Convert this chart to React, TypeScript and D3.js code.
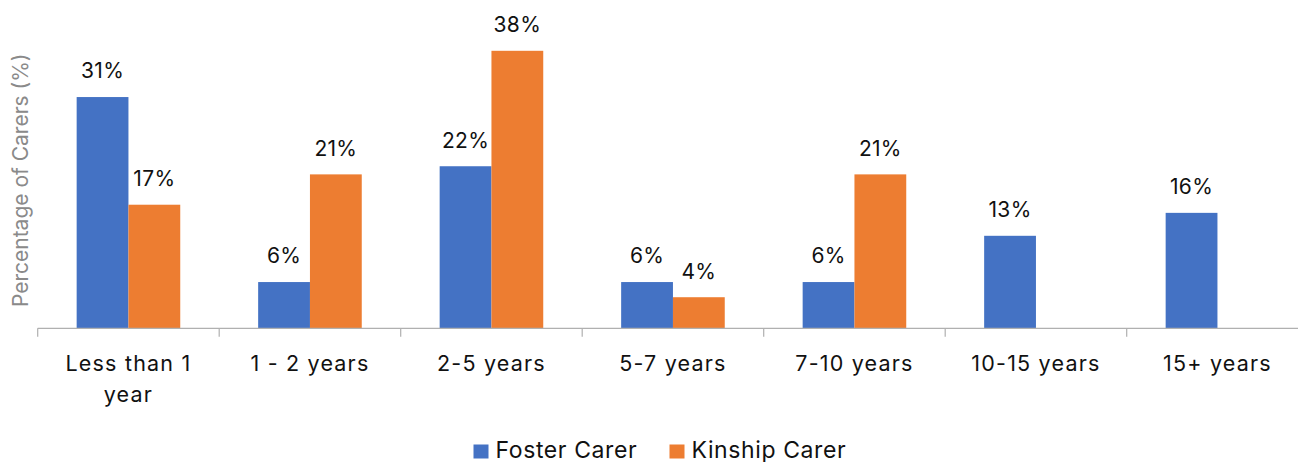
import React from "react";
import * as d3 from "d3";

const categories = ["Less than 1 year", "1 - 2 years", "2-5 years", "5-7 years", "7-10 years", "10-15 years", "15+ years"];
const tickLabels = [["Less than 1", "year"], ["1 - 2 years"], ["2-5 years"], ["5-7 years"], ["7-10 years"], ["10-15 years"], ["15+ years"]];
const seriesNames = ["Foster Carer", "Kinship Carer"];
const fosterValues = [31.25, 6.25, 21.9, 6.25, 6.25, 12.5, 15.6];
const kinshipValues: (number | null)[] = [16.7, 20.8, 37.5, 4.2, 20.8, null, null];
const seriesColors = ["#4472C4", "#ED7D31"];

const W = 1298;
const H = 462;
const FONT = "Inter, 'Open Sans', sans-serif";

export default function App() {
  const left = 37.7;
  const step = 181.5;
  const baseY = 328.3;
  const topY = baseY - 40 * 7.4;

  const x = d3.scaleBand<string>().domain(categories).range([left, left + step * categories.length]).padding(0);
  const xs = d3.scaleBand<string>().domain(seriesNames).range([0, x.bandwidth()]).paddingInner(0).paddingOuter(0.752);
  const y = d3.scaleLinear().domain([0, 40]).range([baseY, topY]);

  const series = [fosterValues, kinshipValues];
  const ticks = d3.range(categories.length + 1).map((i) => left + i * step);

  return (
    <svg width={W} height={H} style={{ position: "absolute", left: 0, top: 0, background: "#fff" }} fontFamily={FONT}>
      {series.map((vals, si) =>
        vals.map((v, ci) => {
          if (v == null) return null;
          const bx = (x(categories[ci]) as number) + (xs(seriesNames[si]) as number);
          const bw = xs.bandwidth();
          return (
            <g key={`${si}-${ci}`}>
              <rect x={bx} y={y(v)} width={bw} height={y(0) - y(v)} fill={seriesColors[si]} />
              <text x={bx + bw / 2} y={y(v) - 18.7} textAnchor="middle" fontSize={21} letterSpacing={0.3} fill="#111">
                {Math.round(v)}%
              </text>
            </g>
          );
        })
      )}
      <line x1={left} x2={W} y1={baseY} y2={baseY} stroke="#b0b0b0" strokeWidth={1.2} />
      {ticks.map((t, i) => (
        <line key={i} x1={t} x2={t} y1={baseY} y2={baseY + 8.5} stroke="#b0b0b0" strokeWidth={1.2} />
      ))}
      {tickLabels.map((lines, ci) => (
        <text key={ci} textAnchor="middle" fontSize={21.5} letterSpacing={1.2} fill="#111">
          {lines.map((ln, li) => (
            <tspan key={li} x={(x(categories[ci]) as number) + x.bandwidth() / 2} y={370.8 + li * 31.5}>
              {ln}
            </tspan>
          ))}
        </text>
      ))}
      <text
        transform={`translate(27.5,${(baseY + topY) / 2}) rotate(-90)`}
        textAnchor="middle"
        fontSize={21}
        fill="#8a8a8a"
      >
        Percentage of Carers (%)
      </text>
      <g>
        <rect x={473.5} y={444.5} width={15} height={14} fill={seriesColors[0]} />
        <text x={495.5} y={457.5} fontSize={23} letterSpacing={0.6} fill="#111">{seriesNames[0]}</text>
        <rect x={669.5} y={444.5} width={15} height={14} fill={seriesColors[1]} />
        <text x={691.5} y={457.5} fontSize={23} letterSpacing={0.6} fill="#111">{seriesNames[1]}</text>
      </g>
    </svg>
  );
}
